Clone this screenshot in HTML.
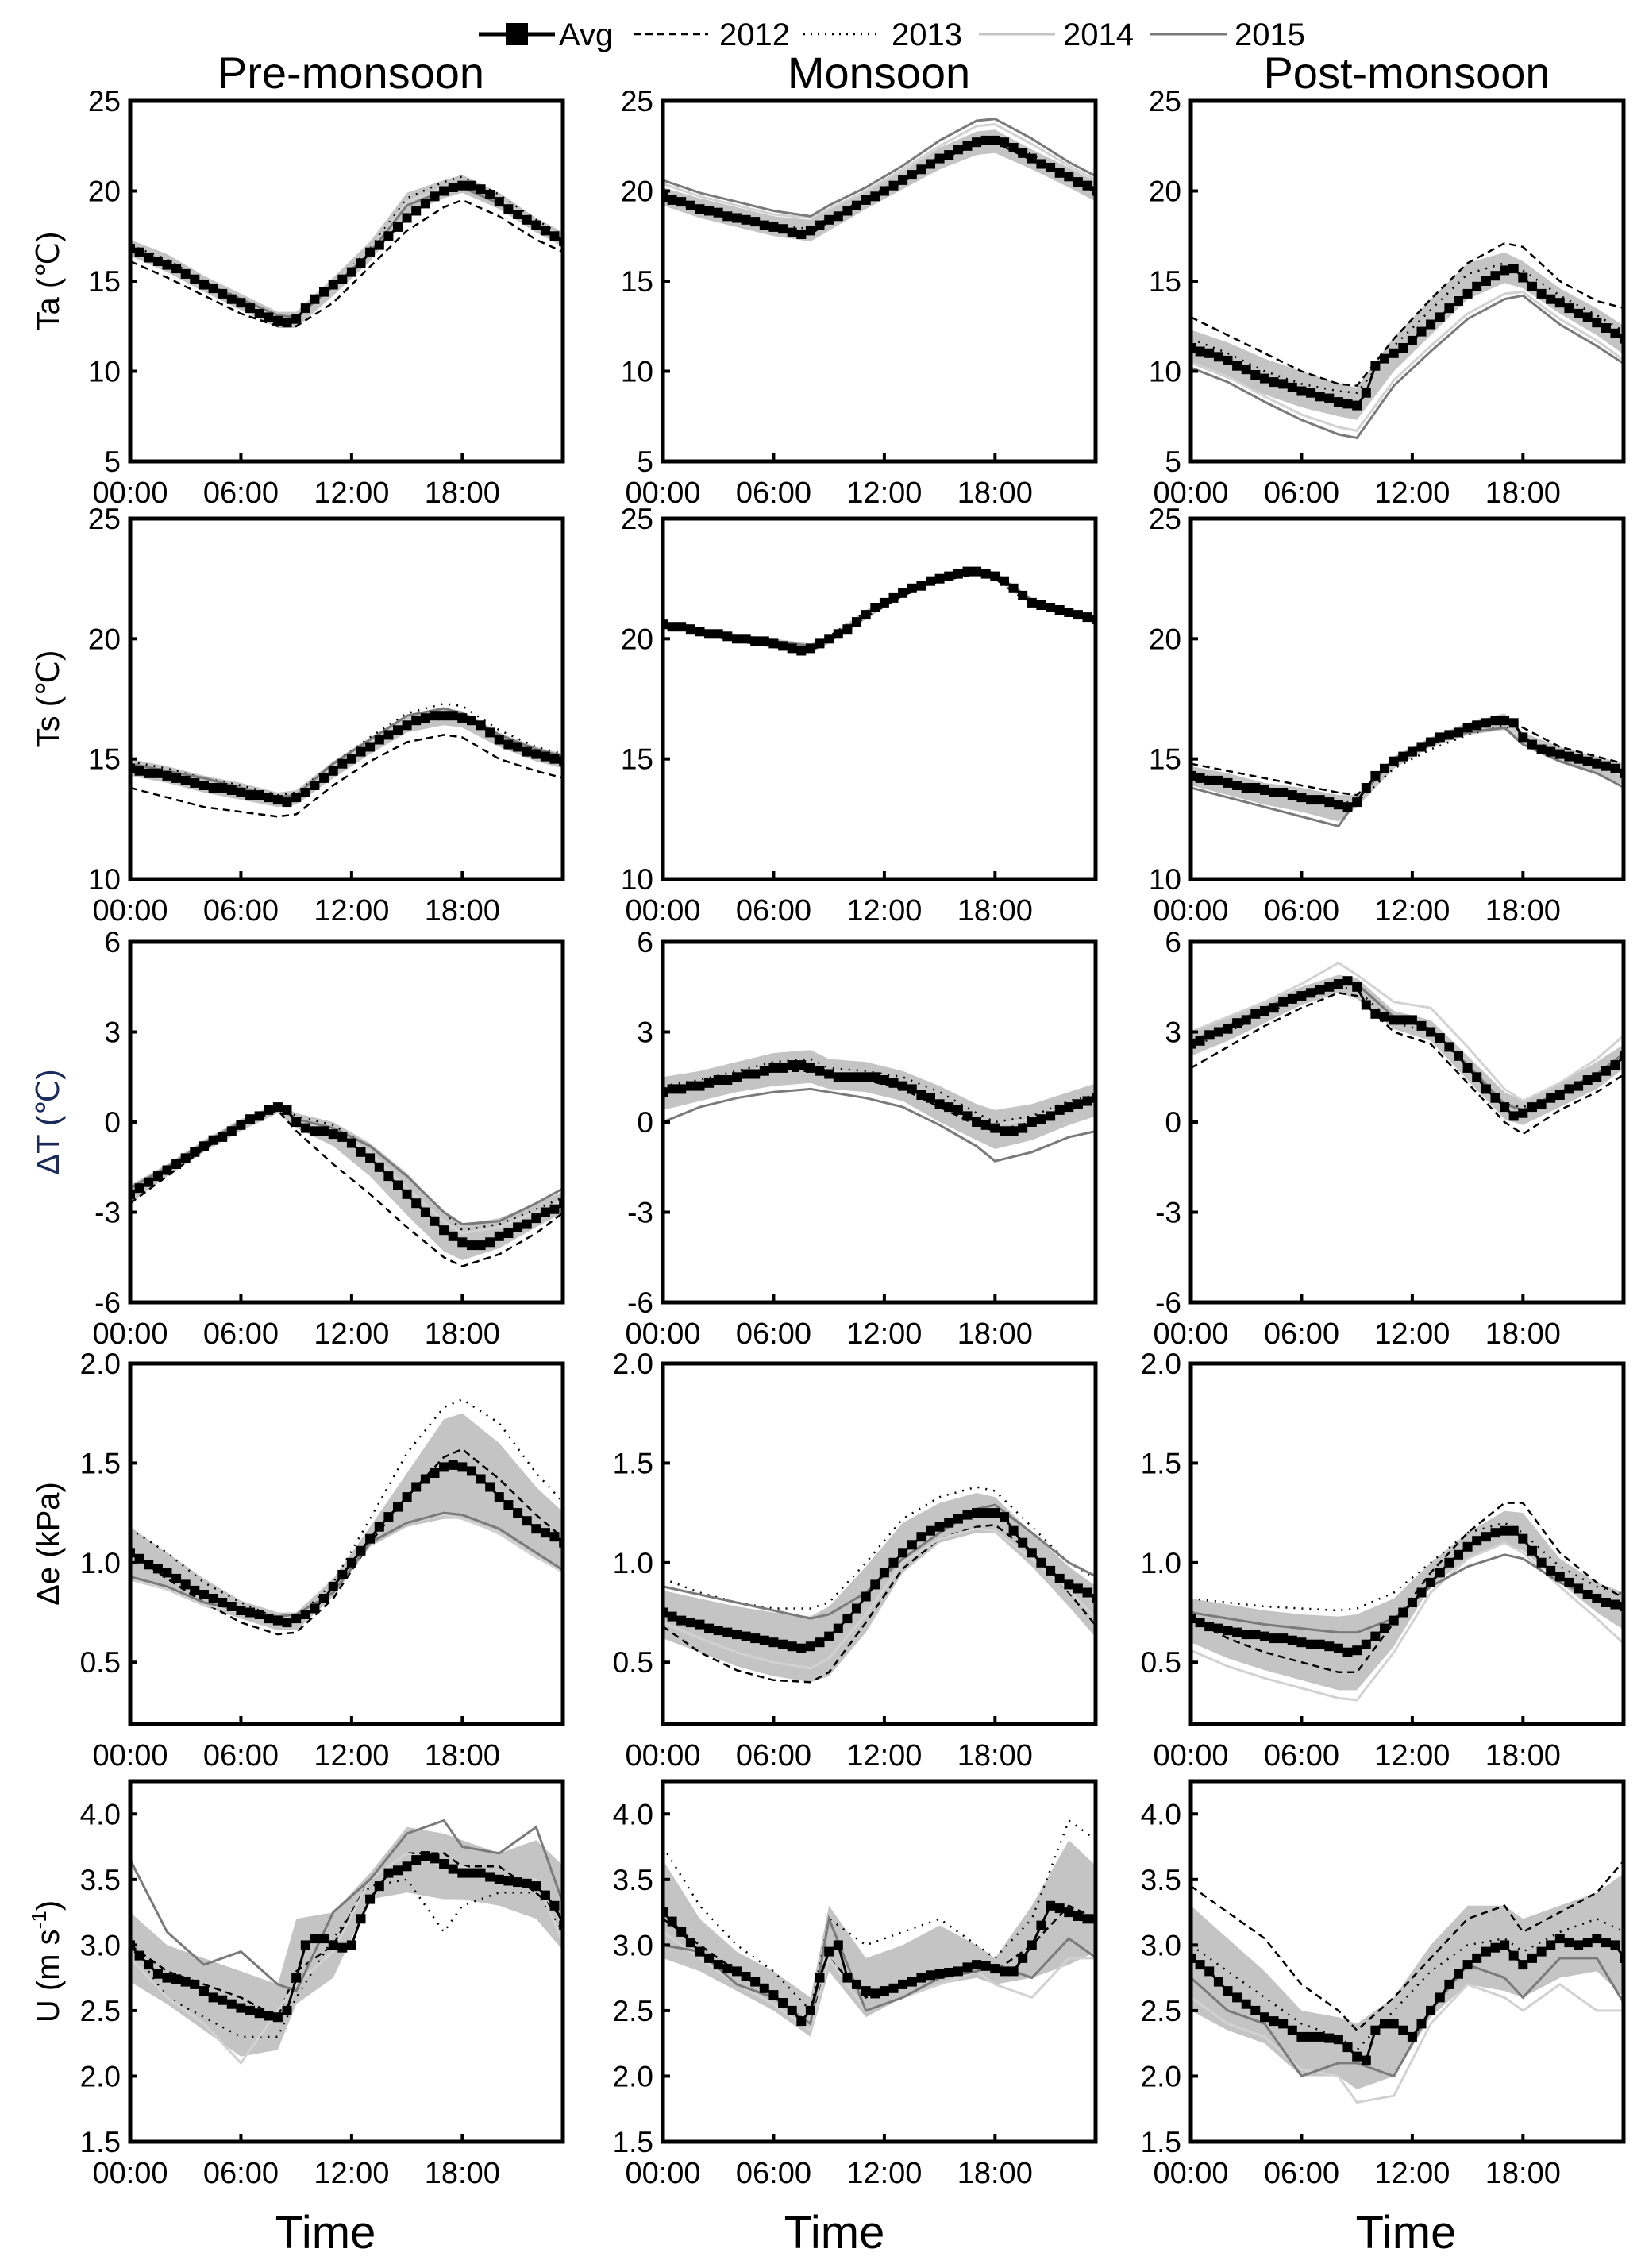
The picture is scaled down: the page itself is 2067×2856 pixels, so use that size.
<!DOCTYPE html>
<html><head><meta charset="utf-8"><title>Diurnal cycles by season</title>
<style>
html,body{margin:0;padding:0;background:#fff;}
svg{display:block;font-family:"Liberation Sans",Arial,sans-serif;}
</style></head>
<body>
<svg id="fig" width="2067" height="2856" viewBox="0 0 2067 2856" xmlns="http://www.w3.org/2000/svg">
<g id="legend">
  <g>
    <line x1="603" y1="43" x2="699" y2="43" stroke="#000" stroke-width="5"/>
    <rect x="637" y="29" width="28" height="28" fill="#000"/>
    <text x="704" y="57" font-size="40">Avg</text>
  </g>
  <g>
    <line x1="798" y1="43" x2="892" y2="43" stroke="#000" stroke-width="2.5" stroke-dasharray="9,6"/>
    <text x="906" y="57" font-size="40">2012</text>
  </g>
  <g>
    <line x1="1012" y1="43" x2="1108" y2="43" stroke="#000" stroke-width="2.5" stroke-dasharray="2,7"/>
    <text x="1123" y="57" font-size="40">2013</text>
  </g>
  <g>
    <line x1="1233" y1="43" x2="1329" y2="43" stroke="#c4c4c4" stroke-width="3"/>
    <text x="1339" y="57" font-size="40">2014</text>
  </g>
  <g>
    <line x1="1449" y1="43" x2="1545" y2="43" stroke="#7a7a7a" stroke-width="3"/>
    <text x="1555" y="57" font-size="40">2015</text>
  </g>
</g>
<text x="442" y="111" font-size="56" text-anchor="middle">Pre-monsoon</text>
<text x="1107" y="111" font-size="56" text-anchor="middle">Monsoon</text>
<text x="1772" y="111" font-size="56" text-anchor="middle">Post-monsoon</text>
<text x="410" y="2831" font-size="58" text-anchor="middle">Time</text>
<text x="1051" y="2831" font-size="58" text-anchor="middle">Time</text>
<text x="1771" y="2831" font-size="58" text-anchor="middle">Time</text>
<text transform="translate(74,354) rotate(-90)" font-size="40" text-anchor="middle">Ta (℃)</text>
<text transform="translate(74,880) rotate(-90)" font-size="40" text-anchor="middle">Ts (℃)</text>
<text transform="translate(74,1413) rotate(-90)" font-size="40" text-anchor="middle" fill="#1a2a5a">ΔT (℃)</text>
<text transform="translate(74,1944) rotate(-90)" font-size="40" text-anchor="middle">Δe (kPa)</text>
<text transform="translate(74,2470) rotate(-90)" font-size="40" text-anchor="middle">U (m s<tspan font-size="26" dy="-16">-1</tspan><tspan dy="16">)</tspan></text>
<g id="panels"></g>
</svg>
<script>
// ---- data ----
var G = [0,2,4,6,8,9,11,13,15,17,18,20,22,23.5];
var xTicks = [0,6,12,18];
var xTickLabels = ["00:00","06:00","12:00","18:00"];
var seasons = ["pre","monsoon","post"];
var variables = ["ta","ts","dt","de","u"];
var yMin = [5,10,-6,0.19,1.5];
var yMax = [25,25,6,2.0,4.25];
var yTicks0 = [5,10,15,20,25];
var yTicks1 = [10,15,20,25];
var yTicks2 = [-6,-3,0,3,6];
var yTicks3 = [0.5,1.0,1.5,2.0];
var yTicks4 = [1.5,2.0,2.5,3.0,3.5,4.0];
var yDecimals = [0,0,0,1,1];

// Ta
var avg_ta_pre = [16.8,16.6,16.3,16.1,15.9,15.7,15.4,15.1,14.8,14.6,14.3,14.0,13.8,13.5,13.2,13.0,12.8,12.7,12.9,13.5,14.0,14.4,14.8,15.1,15.5,16.0,16.6,17.0,17.5,18.0,18.5,18.9,19.3,19.7,20.0,20.2,20.3,20.3,20.1,19.8,19.4,19.0,18.7,18.4,18.1,17.8,17.5,17.2];
var y2012_ta_pre = [16.1,15.2,14.2,13.2,12.5,12.5,13.8,15.8,17.8,19.1,19.5,18.6,17.3,16.6];
var y2013_ta_pre = [17.0,16.2,15.0,14.0,13.0,12.9,14.8,16.8,19.6,20.5,20.8,19.8,18.4,17.5];
var y2014_ta_pre = [16.9,16.0,14.9,13.9,13.0,12.9,14.8,16.7,19.4,20.2,20.4,19.5,18.2,17.4];
var y2015_ta_pre = [16.9,16.0,14.9,14.0,13.1,13.0,14.7,16.6,19.2,20.0,20.2,19.3,18.0,17.3];
var lo_ta_pre = [16.4,15.5,14.4,13.4,12.4,12.4,14.2,16.1,18.7,19.6,19.9,19.0,17.7,16.9];
var hi_ta_pre = [17.3,16.5,15.3,14.3,13.3,13.3,15.2,17.2,19.9,20.6,20.9,19.9,18.5,17.7];

var avg_ta_monsoon = [19.7,19.5,19.4,19.2,19.0,18.9,18.8,18.6,18.5,18.4,18.3,18.1,18.0,17.9,17.7,17.6,17.8,18.1,18.4,18.6,18.9,19.2,19.5,19.7,20.0,20.3,20.6,20.9,21.2,21.5,21.8,22.0,22.3,22.5,22.7,22.8,22.8,22.7,22.4,22.1,21.8,21.5,21.3,21.0,20.8,20.5,20.3,20.0];
var y2012_ta_monsoon = [19.5,18.9,18.4,17.9,17.6,18.3,19.4,20.5,21.7,22.6,22.7,21.7,20.7,19.9];
var y2013_ta_monsoon = [19.8,19.1,18.6,18.1,17.9,18.5,19.6,20.7,21.9,22.9,23.0,22.0,20.9,20.1];
var y2014_ta_monsoon = [20.4,19.7,19.2,18.7,18.5,19.0,20.0,21.2,22.5,23.6,23.7,22.6,21.4,20.6];
var y2015_ta_monsoon = [20.6,19.9,19.4,18.9,18.6,19.2,20.2,21.4,22.8,23.9,24.0,22.9,21.6,20.8];
var lo_ta_monsoon = [19.2,18.5,18.0,17.5,17.2,17.8,19.0,20.1,21.2,22.0,22.1,21.2,20.2,19.4];
var hi_ta_monsoon = [20.2,19.6,19.1,18.6,18.4,19.0,20.0,21.1,22.4,23.3,23.4,22.3,21.3,20.5];

var avg_ta_post = [11.3,11.1,11.0,10.8,10.6,10.3,10.1,9.8,9.6,9.4,9.3,9.1,8.9,8.8,8.6,8.5,8.3,8.2,8.1,8.8,10.3,10.7,11.0,11.3,11.7,12.2,12.6,13.0,13.5,13.9,14.3,14.7,15.0,15.3,15.6,15.7,15.2,14.7,14.3,14.0,13.8,13.5,13.2,13.0,12.7,12.4,12.1,11.8];
var y2012_ta_post = [13.0,12.0,11.0,10.0,9.3,9.2,11.8,14.0,16.0,17.1,16.9,15.0,13.9,13.5];
var y2013_ta_post = [11.8,11.0,10.0,9.3,8.9,8.8,11.4,13.4,15.4,16.0,15.6,14.2,13.1,12.2];
var y2014_ta_post = [10.5,9.7,8.6,7.6,6.9,6.7,9.5,11.4,13.2,14.3,14.4,12.9,11.7,10.6];
var y2015_ta_post = [10.2,9.4,8.3,7.3,6.5,6.3,9.2,11.1,12.9,14.0,14.2,12.6,11.4,10.4];
var lo_ta_post = [10.4,9.6,8.7,8.0,7.5,7.3,10.0,12.0,14.0,14.9,14.6,13.2,12.0,10.9];
var hi_ta_post = [12.3,11.6,10.7,10.0,9.3,9.1,11.9,14.0,16.0,16.6,16.1,14.6,13.5,12.5];

// Ts
var avg_ts_pre = [14.6,14.5,14.4,14.4,14.3,14.2,14.1,14.0,13.9,13.8,13.8,13.7,13.6,13.5,13.5,13.4,13.3,13.2,13.4,13.6,13.9,14.2,14.5,14.8,15.0,15.3,15.5,15.8,16.0,16.2,16.4,16.6,16.7,16.8,16.8,16.8,16.7,16.6,16.4,16.1,15.8,15.6,15.5,15.3,15.2,15.1,15.0,14.9];
var y2012_ts_pre = [13.8,13.4,13.0,12.8,12.6,12.7,13.9,14.9,15.7,16.0,15.9,15.0,14.5,14.2];
var y2013_ts_pre = [14.9,14.6,14.2,13.9,13.5,13.6,14.8,15.9,16.9,17.3,17.2,16.2,15.5,15.2];
var y2014_ts_pre = [14.7,14.4,14.0,13.7,13.4,13.5,14.7,15.7,16.6,16.9,16.8,15.9,15.3,15.0];
var y2015_ts_pre = [14.8,14.5,14.2,13.8,13.4,13.5,14.8,15.8,16.8,17.1,16.9,16.0,15.4,15.1];
var lo_ts_pre = [14.3,14.0,13.6,13.3,13.0,13.1,14.2,15.2,16.1,16.4,16.3,15.5,14.9,14.6];
var hi_ts_pre = [15.0,14.7,14.3,14.0,13.6,13.7,14.9,15.9,16.8,17.1,17.0,16.1,15.5,15.2];

var avg_ts_monsoon = [20.6,20.5,20.5,20.4,20.3,20.2,20.2,20.1,20.0,20.0,19.9,19.9,19.8,19.7,19.6,19.5,19.6,19.8,20.0,20.2,20.4,20.7,21.0,21.3,21.5,21.7,21.9,22.1,22.2,22.4,22.5,22.6,22.7,22.8,22.8,22.7,22.6,22.4,22.1,21.8,21.5,21.4,21.3,21.2,21.1,21.0,20.9,20.8];
var y2012_ts_monsoon = [20.5,20.2,19.9,19.7,19.5,19.9,20.9,21.8,22.4,22.7,22.5,21.4,21.0,20.7];
var y2013_ts_monsoon = [20.7,20.4,20.1,19.9,19.7,20.1,21.1,22.0,22.6,22.9,22.7,21.6,21.2,20.9];
var y2014_ts_monsoon = [20.6,20.3,20.0,19.8,19.6,20.0,21.0,21.9,22.5,22.8,22.6,21.5,21.1,20.8];
var y2015_ts_monsoon = [20.6,20.3,20.1,19.9,19.7,20.0,21.0,21.9,22.5,22.8,22.7,21.6,21.1,20.8];
var lo_ts_monsoon = [20.5,20.2,19.9,19.6,19.4,19.8,20.8,21.8,22.4,22.7,22.5,21.4,21.0,20.7];
var hi_ts_monsoon = [20.7,20.4,20.2,20.0,19.8,20.1,21.2,22.0,22.6,22.9,22.8,21.7,21.2,20.9];

var avg_ts_post = [14.3,14.2,14.1,14.1,14.0,13.9,13.8,13.8,13.7,13.6,13.6,13.5,13.4,13.3,13.3,13.2,13.1,13.0,13.2,13.8,14.3,14.6,14.9,15.1,15.3,15.5,15.7,15.9,16.0,16.1,16.3,16.4,16.5,16.6,16.6,16.5,15.9,15.6,15.4,15.3,15.2,15.1,15.0,14.9,14.8,14.7,14.6,14.4];
var y2012_ts_post = [14.8,14.5,14.2,13.9,13.6,13.5,14.9,15.6,16.2,16.7,16.3,15.5,15.1,14.8];
var y2013_ts_post = [14.4,14.1,13.8,13.5,13.2,13.2,14.6,15.4,16.0,16.4,15.9,15.3,14.9,14.6];
var y2014_ts_post = [14.2,13.9,13.6,13.3,13.0,13.3,15.0,15.8,16.3,16.5,15.8,15.1,14.7,14.3];
var y2015_ts_post = [13.8,13.4,13.0,12.6,12.2,13.3,15.0,15.8,16.1,16.3,15.6,14.9,14.4,13.8];
var lo_ts_post = [13.9,13.5,13.1,12.8,12.4,13.0,14.6,15.5,16.0,16.2,15.6,14.9,14.4,13.9];
var hi_ts_post = [14.7,14.4,14.0,13.8,13.5,13.5,15.1,15.9,16.5,16.9,16.1,15.5,15.1,14.8];

// Delta T
var avg_dt_pre = [-2.4,-2.2,-2.0,-1.8,-1.6,-1.4,-1.2,-1.0,-0.8,-0.6,-0.5,-0.3,-0.1,0.1,0.2,0.4,0.5,0.4,0.0,-0.2,-0.3,-0.3,-0.4,-0.5,-0.7,-1.0,-1.2,-1.5,-1.8,-2.1,-2.4,-2.7,-3.0,-3.3,-3.6,-3.8,-4.0,-4.1,-4.1,-4.0,-3.8,-3.7,-3.5,-3.4,-3.2,-3.0,-2.9,-2.7];
var y2012_dt_pre = [-2.7,-1.8,-0.9,-0.1,0.4,-0.3,-1.4,-2.4,-3.5,-4.5,-4.8,-4.4,-3.7,-3.0];
var y2013_dt_pre = [-2.3,-1.5,-0.7,0.0,0.6,0.2,-0.1,-0.8,-1.8,-3.0,-3.6,-3.4,-2.9,-2.5];
var y2014_dt_pre = [-2.4,-1.6,-0.8,-0.1,0.5,0.1,-0.3,-1.0,-2.2,-3.3,-3.7,-3.5,-3.0,-2.6];
var y2015_dt_pre = [-2.2,-1.5,-0.7,0.0,0.5,0.1,-0.2,-0.8,-1.8,-3.0,-3.4,-3.3,-2.7,-2.2];
var lo_dt_pre = [-2.7,-1.8,-1.0,-0.3,0.3,-0.2,-0.8,-1.8,-3.1,-4.3,-4.6,-4.2,-3.5,-3.0];
var hi_dt_pre = [-2.1,-1.4,-0.6,0.1,0.6,0.3,0.0,-0.7,-1.7,-3.0,-3.4,-3.2,-2.7,-2.3];

var avg_dt_monsoon = [1.0,1.1,1.1,1.2,1.2,1.3,1.4,1.4,1.5,1.6,1.6,1.7,1.8,1.8,1.9,1.9,1.8,1.7,1.6,1.5,1.5,1.5,1.5,1.5,1.4,1.3,1.2,1.1,0.9,0.8,0.6,0.5,0.4,0.2,0.0,-0.1,-0.2,-0.3,-0.3,-0.2,0.0,0.1,0.2,0.4,0.5,0.6,0.7,0.8];
var y2012_dt_monsoon = [1.0,1.2,1.5,1.7,1.7,1.6,1.4,1.1,0.5,-0.1,-0.3,0.0,0.5,0.8];
var y2013_dt_monsoon = [1.2,1.4,1.7,2.0,2.1,1.8,1.7,1.5,1.0,0.3,0.0,0.2,0.7,0.9];
var y2014_dt_monsoon = [1.1,1.3,1.6,1.9,1.9,1.7,1.6,1.3,0.7,0.1,-0.1,0.1,0.6,0.9];
var y2015_dt_monsoon = [0.0,0.5,0.8,1.0,1.1,1.0,0.8,0.5,-0.1,-0.8,-1.3,-1.0,-0.5,-0.3];
var lo_dt_monsoon = [0.4,0.7,1.0,1.2,1.3,1.1,1.0,0.7,0.0,-0.6,-0.9,-0.6,-0.1,0.2];
var hi_dt_monsoon = [1.5,1.7,2.0,2.3,2.4,2.1,2.0,1.7,1.2,0.6,0.4,0.6,1.0,1.3];

var avg_dt_post = [2.6,2.7,2.9,3.0,3.1,3.3,3.4,3.6,3.7,3.8,4.0,4.1,4.2,4.3,4.4,4.5,4.6,4.7,4.5,3.9,3.6,3.5,3.4,3.4,3.4,3.2,3.0,2.8,2.5,2.2,1.8,1.5,1.1,0.8,0.5,0.2,0.3,0.5,0.6,0.8,0.9,1.1,1.2,1.4,1.5,1.7,1.9,2.2];
var y2012_dt_post = [1.8,2.5,3.2,3.8,4.3,4.2,3.0,2.6,1.3,0.0,-0.4,0.4,1.0,1.6];
var y2013_dt_post = [2.5,3.0,3.6,4.1,4.5,4.4,3.3,3.0,1.9,0.6,0.5,1.0,1.6,2.2];
var y2014_dt_post = [3.0,3.5,4.0,4.6,5.3,4.9,4.0,3.8,2.5,1.1,0.7,1.3,2.1,2.9];
var y2015_dt_post = [2.7,3.2,3.8,4.3,4.7,4.6,3.5,3.1,1.9,0.6,0.4,1.0,1.6,2.3];
var lo_dt_post = [2.2,2.7,3.3,3.9,4.3,4.1,3.1,2.7,1.4,0.1,-0.1,0.5,1.1,1.8];
var hi_dt_post = [3.0,3.5,4.0,4.5,4.9,4.8,3.7,3.4,2.2,1.0,0.7,1.3,2.0,2.6];

// Delta e
var avg_de_pre = [1.05,1.02,0.99,0.97,0.95,0.92,0.89,0.86,0.84,0.82,0.80,0.78,0.76,0.75,0.74,0.72,0.71,0.70,0.72,0.74,0.77,0.82,0.88,0.94,1.00,1.06,1.12,1.18,1.23,1.28,1.33,1.38,1.42,1.45,1.48,1.49,1.48,1.46,1.42,1.38,1.33,1.29,1.25,1.21,1.17,1.15,1.13,1.10];
var y2012_de_pre = [1.05,0.92,0.80,0.70,0.64,0.65,0.82,1.10,1.33,1.53,1.57,1.42,1.24,1.12];
var y2013_de_pre = [1.17,1.05,0.90,0.80,0.72,0.72,0.90,1.22,1.55,1.78,1.82,1.70,1.45,1.30];
var y2014_de_pre = [0.92,0.87,0.79,0.75,0.72,0.73,0.85,1.10,1.20,1.24,1.22,1.15,1.03,0.95];
var y2015_de_pre = [0.93,0.88,0.80,0.76,0.73,0.74,0.85,1.10,1.20,1.25,1.24,1.17,1.05,0.96];
var lo_de_pre = [0.91,0.86,0.78,0.72,0.66,0.66,0.83,1.08,1.18,1.22,1.22,1.14,1.02,0.95];
var hi_de_pre = [1.18,1.05,0.92,0.81,0.75,0.75,0.92,1.18,1.45,1.72,1.75,1.60,1.38,1.25];

var avg_de_monsoon = [0.75,0.73,0.71,0.70,0.69,0.67,0.66,0.65,0.64,0.63,0.62,0.61,0.60,0.59,0.58,0.57,0.58,0.60,0.63,0.67,0.72,0.77,0.83,0.89,0.95,1.00,1.05,1.09,1.13,1.16,1.18,1.20,1.22,1.24,1.25,1.25,1.25,1.23,1.16,1.10,1.05,1.00,0.96,0.92,0.89,0.87,0.85,0.82];
var y2012_de_monsoon = [0.68,0.55,0.46,0.41,0.40,0.45,0.70,0.97,1.12,1.18,1.19,1.05,0.85,0.68];
var y2013_de_monsoon = [0.92,0.85,0.80,0.77,0.77,0.80,1.00,1.22,1.33,1.38,1.36,1.18,1.00,0.92];
var y2014_de_monsoon = [0.70,0.62,0.55,0.50,0.47,0.52,0.74,1.00,1.12,1.17,1.16,1.02,0.86,0.72];
var y2015_de_monsoon = [0.88,0.84,0.80,0.76,0.72,0.74,0.85,1.02,1.15,1.27,1.29,1.15,1.00,0.93];
var lo_de_monsoon = [0.62,0.55,0.48,0.43,0.40,0.43,0.65,0.95,1.10,1.15,1.15,0.98,0.78,0.62];
var hi_de_monsoon = [0.86,0.82,0.78,0.75,0.73,0.78,0.98,1.20,1.30,1.35,1.33,1.15,0.98,0.88];

var avg_de_post = [0.72,0.70,0.68,0.67,0.66,0.65,0.64,0.64,0.63,0.62,0.62,0.61,0.60,0.59,0.59,0.58,0.57,0.55,0.56,0.59,0.63,0.67,0.71,0.75,0.80,0.85,0.90,0.95,1.00,1.04,1.08,1.11,1.13,1.15,1.16,1.16,1.12,1.06,1.00,0.96,0.93,0.90,0.87,0.84,0.82,0.80,0.79,0.78];
var y2012_de_post = [0.72,0.62,0.55,0.50,0.45,0.45,0.70,0.95,1.15,1.30,1.30,1.05,0.90,0.82];
var y2013_de_post = [0.82,0.80,0.78,0.77,0.76,0.77,0.85,1.00,1.15,1.20,1.15,0.98,0.88,0.84];
var y2014_de_post = [0.56,0.48,0.42,0.37,0.32,0.31,0.55,0.85,1.02,1.10,1.05,0.88,0.72,0.59];
var y2015_de_post = [0.75,0.72,0.69,0.67,0.65,0.65,0.72,0.88,0.98,1.04,1.02,0.90,0.82,0.77];
var lo_de_post = [0.60,0.52,0.46,0.41,0.36,0.36,0.58,0.88,1.02,1.10,1.06,0.90,0.75,0.66];
var hi_de_post = [0.82,0.79,0.76,0.74,0.73,0.74,0.82,1.00,1.15,1.26,1.25,1.02,0.90,0.85];

// U
var avg_u_pre = [3.0,2.92,2.85,2.78,2.75,2.74,2.72,2.70,2.65,2.60,2.58,2.55,2.52,2.50,2.48,2.46,2.45,2.50,2.75,3.0,3.05,3.05,3.0,2.98,3.0,3.2,3.35,3.45,3.55,3.57,3.6,3.65,3.68,3.66,3.62,3.58,3.55,3.55,3.55,3.52,3.5,3.49,3.48,3.47,3.45,3.38,3.30,3.15];
var y2012_u_pre = [3.0,2.8,2.7,2.6,2.45,2.8,3.0,3.5,3.7,3.7,3.6,3.6,3.4,3.2];
var y2013_u_pre = [3.0,2.6,2.45,2.3,2.3,2.6,3.05,3.45,3.5,3.1,3.3,3.4,3.4,3.1];
var y2014_u_pre = [2.9,2.6,2.4,2.1,2.5,2.7,2.95,3.5,3.7,3.6,3.6,3.5,3.5,3.0];
var y2015_u_pre = [3.65,3.1,2.85,2.95,2.7,2.65,3.25,3.5,3.85,3.95,3.75,3.7,3.9,3.3];
var lo_u_pre = [2.72,2.55,2.35,2.15,2.2,2.55,2.75,3.35,3.4,3.35,3.35,3.3,3.2,2.95];
var hi_u_pre = [3.25,3.0,2.9,2.8,2.7,3.2,3.25,3.55,3.9,3.85,3.8,3.7,3.8,3.6];

var avg_u_monsoon = [3.25,3.18,3.1,3.02,2.95,2.9,2.85,2.82,2.8,2.76,2.72,2.67,2.62,2.56,2.5,2.42,2.5,2.75,2.95,3.0,2.75,2.7,2.65,2.63,2.65,2.67,2.7,2.72,2.75,2.77,2.78,2.79,2.8,2.83,2.85,2.84,2.82,2.8,2.8,2.9,3.0,3.15,3.3,3.28,3.25,3.22,3.2,3.2];
var y2012_u_monsoon = [3.2,3.0,2.8,2.6,2.4,2.9,2.6,2.7,2.8,2.85,2.8,3.0,3.3,3.2];
var y2013_u_monsoon = [3.75,3.3,3.0,2.8,2.5,3.2,3.0,3.1,3.2,3.0,2.9,3.2,3.95,3.8];
var y2014_u_monsoon = [3.1,2.9,2.7,2.55,2.35,2.9,2.5,2.6,2.7,2.8,2.7,2.6,2.9,2.9];
var y2015_u_monsoon = [3.0,2.95,2.7,2.6,2.4,3.2,2.5,2.6,2.75,2.8,2.85,2.75,3.05,2.9];
var lo_u_monsoon = [2.9,2.8,2.65,2.5,2.3,2.8,2.45,2.6,2.7,2.75,2.7,2.75,2.85,2.95];
var hi_u_monsoon = [3.65,3.2,2.95,2.8,2.6,3.3,2.9,3.0,3.15,3.0,2.9,3.3,3.8,3.6];

var avg_u_post = [2.9,2.85,2.8,2.72,2.65,2.6,2.55,2.5,2.45,2.42,2.4,2.35,2.3,2.3,2.3,2.29,2.28,2.22,2.15,2.12,2.35,2.4,2.4,2.35,2.3,2.4,2.5,2.6,2.7,2.78,2.85,2.9,2.95,2.98,3.0,2.92,2.85,2.9,2.95,3.0,3.05,3.02,3.0,3.02,3.05,3.02,3.0,2.9];
var y2012_u_post = [3.45,3.25,3.05,2.7,2.5,2.35,2.6,2.9,3.2,3.3,3.1,3.25,3.4,3.65];
var y2013_u_post = [3.0,2.8,2.6,2.4,2.3,2.2,2.5,2.8,3.0,3.05,2.95,3.1,3.2,3.1];
var y2014_u_post = [2.6,2.4,2.3,2.05,2.0,1.8,1.85,2.4,2.7,2.6,2.5,2.7,2.5,2.5];
var y2015_u_post = [2.75,2.5,2.4,2.0,2.1,2.1,2.0,2.5,2.85,2.75,2.6,2.9,2.9,2.55];
var lo_u_post = [2.5,2.35,2.25,2.0,2.0,1.9,2.0,2.45,2.7,2.65,2.6,2.75,2.8,2.6];
var hi_u_post = [3.3,3.05,2.8,2.5,2.45,2.4,2.6,3.0,3.3,3.3,3.2,3.3,3.4,3.55];

// ---- layout ----
var colLeft = [164,835,1500];
var rowTop = [127,653,1186,1717,2243];
var PW = 545, PH = 454, XMAX = 23.45;
var NS = "http://www.w3.org/2000/svg";
var DATA = {
  ta:{pre:[avg_ta_pre,y2012_ta_pre,y2013_ta_pre,y2014_ta_pre,y2015_ta_pre,lo_ta_pre,hi_ta_pre],monsoon:[avg_ta_monsoon,y2012_ta_monsoon,y2013_ta_monsoon,y2014_ta_monsoon,y2015_ta_monsoon,lo_ta_monsoon,hi_ta_monsoon],post:[avg_ta_post,y2012_ta_post,y2013_ta_post,y2014_ta_post,y2015_ta_post,lo_ta_post,hi_ta_post]},
  ts:{pre:[avg_ts_pre,y2012_ts_pre,y2013_ts_pre,y2014_ts_pre,y2015_ts_pre,lo_ts_pre,hi_ts_pre],monsoon:[avg_ts_monsoon,y2012_ts_monsoon,y2013_ts_monsoon,y2014_ts_monsoon,y2015_ts_monsoon,lo_ts_monsoon,hi_ts_monsoon],post:[avg_ts_post,y2012_ts_post,y2013_ts_post,y2014_ts_post,y2015_ts_post,lo_ts_post,hi_ts_post]},
  dt:{pre:[avg_dt_pre,y2012_dt_pre,y2013_dt_pre,y2014_dt_pre,y2015_dt_pre,lo_dt_pre,hi_dt_pre],monsoon:[avg_dt_monsoon,y2012_dt_monsoon,y2013_dt_monsoon,y2014_dt_monsoon,y2015_dt_monsoon,lo_dt_monsoon,hi_dt_monsoon],post:[avg_dt_post,y2012_dt_post,y2013_dt_post,y2014_dt_post,y2015_dt_post,lo_dt_post,hi_dt_post]},
  de:{pre:[avg_de_pre,y2012_de_pre,y2013_de_pre,y2014_de_pre,y2015_de_pre,lo_de_pre,hi_de_pre],monsoon:[avg_de_monsoon,y2012_de_monsoon,y2013_de_monsoon,y2014_de_monsoon,y2015_de_monsoon,lo_de_monsoon,hi_de_monsoon],post:[avg_de_post,y2012_de_post,y2013_de_post,y2014_de_post,y2015_de_post,lo_de_post,hi_de_post]},
  u:{pre:[avg_u_pre,y2012_u_pre,y2013_u_pre,y2014_u_pre,y2015_u_pre,lo_u_pre,hi_u_pre],monsoon:[avg_u_monsoon,y2012_u_monsoon,y2013_u_monsoon,y2014_u_monsoon,y2015_u_monsoon,lo_u_monsoon,hi_u_monsoon],post:[avg_u_post,y2012_u_post,y2013_u_post,y2014_u_post,y2015_u_post,lo_u_post,hi_u_post]}
};
var TICKS = [yTicks0,yTicks1,yTicks2,yTicks3,yTicks4];
var root = document.getElementById('panels');

function mk(tag, attrs, parent){
  var e = document.createElementNS(NS, tag);
  for (var k in attrs) e.setAttribute(k, attrs[k]);
  parent.appendChild(e);
  return e;
}
function pts(xs, ys, sx, sy){
  var s = [];
  for (var i=0;i<ys.length;i++) s.push(sx(xs[i]).toFixed(1)+','+sy(ys[i]).toFixed(1));
  return s;
}

for (var r=0;r<5;r++){
  for (var c=0;c<3;c++){
    (function(r,c){
      var L = colLeft[c], T = rowTop[r];
      var lo = yMin[r], hi = yMax[r];
      var sx = function(h){ return L + h/XMAX*PW; };
      var sy = function(v){ return T + PH - (v-lo)/(hi-lo)*PH; };
      var d = DATA[variables[r]][seasons[c]];
      var g = mk('g', {}, root);
      
      
      var cid = 'clip'+r+'_'+c;
      var cp = mk('clipPath', {id:cid}, g);
      mk('rect', {x:L, y:T, width:PW, height:PH}, cp);
      var plot = mk('g', {'clip-path':'url(#'+cid+')'}, g);
      var H48 = [];
      for (var i=0;i<48;i++) H48.push(i*0.5);
      var up = pts(G, d[6], sx, sy), dn = pts(G, d[5], sx, sy).reverse();
      var band = mk('polygon', {points: up.concat(dn).join(' '), fill:'#c4c4c4', stroke:'none'}, plot);
      
      
      var styles = [
        null,
        {stroke:'#000','stroke-width':2.5,'stroke-dasharray':'9,6',fill:'none'},
        {stroke:'#000','stroke-width':2.5,'stroke-dasharray':'2,8',fill:'none'},
        {stroke:'#d2d2d2','stroke-width':3,fill:'none'},
        {stroke:'#7a7a7a','stroke-width':3,fill:'none'}
      ];
      var names = [null,'line-2012','line-2013','line-2014','line-2015'];
      for (var s=1;s<=4;s++){
        var a = styles[s]; a.points = pts(G, d[s], sx, sy).join(' ');
        var pl = mk('polyline', a, plot);
        
        
      }
      var avgLine = mk('polyline', {points: pts(H48, d[0], sx, sy).join(' '), fill:'none', stroke:'#000', 'stroke-width':3}, plot);
      
      
      for (var i=0;i<d[0].length;i++){
        var m = mk('rect', {x:(sx(H48[i])-6).toFixed(1), y:(sy(d[0][i])-6).toFixed(1), width:12, height:12, fill:'#000'}, plot);
        
        
      }
      var fr = mk('rect', {x:L, y:T, width:PW, height:PH, fill:'none', stroke:'#000', 'stroke-width':5}, g);
      
      
      var ticks = TICKS[r];
      for (var k=0;k<ticks.length;k++){
        var yy = sy(ticks[k]);
        mk('line', {x1:L, y1:yy, x2:L+9, y2:yy, stroke:'#000', 'stroke-width':4}, g);
        var t = mk('text', {x:L-12, y:yy+13, 'font-size':37, 'text-anchor':'end'}, g);
        t.textContent = ticks[k].toFixed(yDecimals[r]);
        
        
      }
      for (var k=0;k<xTicks.length;k++){
        var xx = sx(xTicks[k]);
        if (k>0) mk('line', {x1:xx, y1:T+PH, x2:xx, y2:T+PH-10, stroke:'#000', 'stroke-width':4}, g);
        var t2 = mk('text', {x:xx, y:T+PH+52, 'font-size':38, 'text-anchor':'middle'}, g);
        t2.textContent = xTickLabels[k];
        
        
      }
    })(r,c);
  }
}
</script>
</body></html>
